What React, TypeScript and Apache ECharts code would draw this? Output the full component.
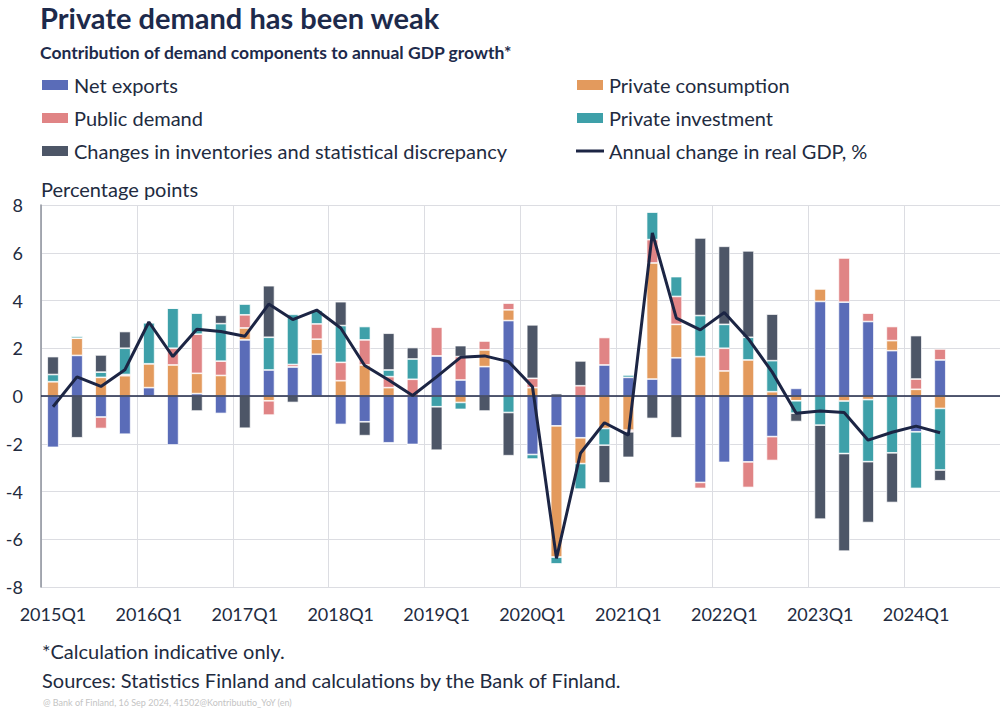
import React, { useEffect, useRef } from "react";
import * as echarts from "echarts";

const quarters: string[] = [];
for (let y = 2015; y <= 2024; y++) for (let q = 1; q <= 4; q++) quarters.push(`${y}Q${q}`);

const netExports = [-2.15, 1.7, -0.88, -1.6, 0.35, -2.05, 0.1, -0.73, 2.35, 1.09, 1.22, 1.75, -1.19, -1.08, -1.96, -2.03, 1.68, 0.67, 1.23, 3.16, -2.45, -1.25, -1.75, 1.3, 0.78, 0.71, 1.6, -3.62, -2.78, -2.76, -1.7, 0.32, 3.96, 3.93, 3.12, 1.9, -1.5, 1.51];
const privateConsumption = [0.6, 0.72, 0.78, 0.85, 1.0, 1.3, 0.85, 0.86, 0.5, -0.2, 0, 0.63, 0.64, 1.3, 0.35, 0, 0, -0.27, 0.7, 0.45, 0.35, -5.5, -1.08, -1.36, -1.43, 4.86, 1.4, 1.65, 1.05, 1.51, 0.18, -0.2, 0.53, -0.21, -0.15, 0.42, 0.28, -0.52];
const publicDemand = [0, 0, -0.48, 0.05, 0, 0.7, 1.64, 0.6, 0.55, -0.6, 0.1, 0.64, 0.77, 1.05, 0.46, 0.7, 1.2, 0.98, 0.38, 0.28, 0.39, 0, 0.43, 1.15, -0.07, 0.98, 1.17, -0.25, 0.95, -1.07, -1.0, 0, 0, 1.85, 0.35, 0.59, 0.43, 0.46];
const privateInvestment = [0.3, 0.08, 0.22, 1.1, 1.72, 1.68, 0.88, 1.57, 0.45, 1.37, 2.1, 0.58, 1.54, 0.56, 0.28, 0.85, -0.45, -0.29, 0, -0.69, -0.19, -0.28, -1.07, -0.7, 0.1, 1.15, 0.83, 1.72, 1.0, 0.95, 1.3, -0.52, -1.22, -2.2, -2.6, -2.38, -2.37, -2.58];
const inventories = [0.75, -1.75, 0.72, 0.7, 0, 0, -0.63, 0.35, -1.35, 2.16, -0.27, 0, 1.0, -0.58, 1.54, 0.48, -1.82, 0.46, -0.63, -1.81, 2.24, 0.1, 1.04, -1.58, -1.07, -0.94, -1.75, 3.25, 3.27, 3.62, 1.95, -0.35, -3.94, -4.09, -2.55, -2.08, 1.82, -0.45];
const gdpChange = [-0.45, 0.8, 0.4, 1.1, 3.1, 1.65, 2.8, 2.7, 2.5, 3.85, 3.2, 3.6, 2.85, 1.28, 0.67, 0.02, 0.8, 1.62, 1.68, 1.44, 0.39, -6.8, -2.4, -1.12, -1.64, 6.83, 3.26, 2.77, 3.5, 2.4, 1.0, -0.72, -0.63, -0.69, -1.85, -1.52, -1.26, -1.54];

const FONT = "Lato";
const TXT = "#222b3f";
const NAVY = "#1c2544";

export default function App() {
  const ref = useRef<HTMLDivElement>(null);
  useEffect(() => {
    if (!ref.current) return;
    const chart = echarts.init(ref.current, null, { renderer: "svg" });
    const barBase = {
      type: "bar",
      stack: "total",
      barWidth: 11.5,
      itemStyle: { borderColor: "#ffffff", borderWidth: 0.7 },
    };
    const legendText = { fontFamily: FONT, fontSize: 20, color: TXT, lineHeight: 20 };
    chart.setOption({
      animation: false,
      backgroundColor: "#ffffff",
      textStyle: { fontFamily: FONT },
      title: [
        { text: "Private demand has been weak", left: 40, top: 3, padding: 0, textStyle: { fontFamily: FONT, fontSize: 29, fontWeight: "bold", color: "#1d2a4b" } },
        { text: "Contribution of demand components to annual GDP growth*", left: 40, top: 43, padding: 0, textStyle: { fontFamily: FONT, fontSize: 17.5, fontWeight: "bold", color: "#1d2a4b" } },
        { text: "Percentage points", left: 41, top: 179, padding: 0, textStyle: { fontFamily: FONT, fontSize: 20, fontWeight: "normal", color: TXT } },
        { text: "*Calculation indicative only.", left: 42, top: 641, padding: 0, textStyle: { fontFamily: FONT, fontSize: 20, fontWeight: "normal", color: TXT } },
        { text: "Sources: Statistics Finland and calculations by the Bank of Finland.", left: 42, top: 670, padding: 0, textStyle: { fontFamily: FONT, fontSize: 20, fontWeight: "normal", color: TXT } },
        { text: "@ Bank of Finland, 16 Sep 2024, 41502@Kontribuutio_YoY (en)", left: 43, top: 698, padding: 0, textStyle: { fontFamily: FONT, fontSize: 9, fontWeight: "normal", color: "#c4c4c4" } },
      ],
      legend: [
        {
          orient: "vertical", left: 40, top: 75, padding: 0, itemWidth: 28, itemHeight: 12, itemGap: 13,
          textStyle: legendText,
          data: [
            { name: "Net exports", icon: "rect" },
            { name: "Public demand", icon: "rect" },
            { name: "Changes in inventories and statistical discrepancy", icon: "rect" },
          ],
        },
        {
          orient: "vertical", left: 575, top: 75, padding: 0, itemWidth: 28, itemHeight: 12, itemGap: 13,
          symbolKeepAspect: true,
          textStyle: legendText,
          data: [
            { name: "Private consumption", icon: "rect" },
            { name: "Private investment", icon: "rect" },
            { name: "Annual change in real GDP, %", icon: "path://M0,0H28V3H0Z" },
          ],
        },
      ],
      grid: { left: 41, top: 205, width: 964, height: 382, containLabel: false },
      xAxis: {
        type: "category",
        data: quarters,
        boundaryGap: true,
        axisLine: { show: false },
        axisTick: { show: false, interval: 3 },
        axisLabel: { interval: 3, fontFamily: FONT, fontSize: 18, color: TXT, margin: 18 },
        splitLine: { show: true, interval: 3, lineStyle: { color: "#dcdde2", width: 1 } },
      },
      yAxis: {
        type: "value",
        min: -8,
        max: 8,
        interval: 2,
        axisLine: { show: true, lineStyle: { color: "#8d919b", width: 1.5 } },
        axisTick: { show: false },
        axisLabel: { fontFamily: FONT, fontSize: 18, color: TXT, margin: 18 },
        splitLine: { show: true, lineStyle: { color: "#dcdde2", width: 1 } },
      },
      series: [
        { ...barBase, name: "Net exports", data: netExports, itemStyle: { ...barBase.itemStyle, color: "#5a6cb8" } },
        { ...barBase, name: "Private consumption", data: privateConsumption, itemStyle: { ...barBase.itemStyle, color: "#e39a5d" } },
        { ...barBase, name: "Public demand", data: publicDemand, itemStyle: { ...barBase.itemStyle, color: "#e08485" } },
        { ...barBase, name: "Private investment", data: privateInvestment, itemStyle: { ...barBase.itemStyle, color: "#3ea0a9" } },
        { ...barBase, name: "Changes in inventories and statistical discrepancy", data: inventories, itemStyle: { ...barBase.itemStyle, color: "#4d5667" } },
        {
          type: "line",
          name: "Annual change in real GDP, %",
          data: gdpChange,
          symbol: "none",
          showSymbol: false,
          z: 5,
          lineStyle: { color: NAVY, width: 3 },
          itemStyle: { color: NAVY },
          markLine: {
            silent: true,
            symbol: "none",
            label: { show: false },
            lineStyle: { color: NAVY, width: 1.5, type: "solid" },
            data: [{ yAxis: 0 }],
          },
        },
      ],
    });
    return () => chart.dispose();
  }, []);
  return <div ref={ref} style={{ position: "fixed", left: 0, top: 0, width: 1000, height: 711 }} />;
}
